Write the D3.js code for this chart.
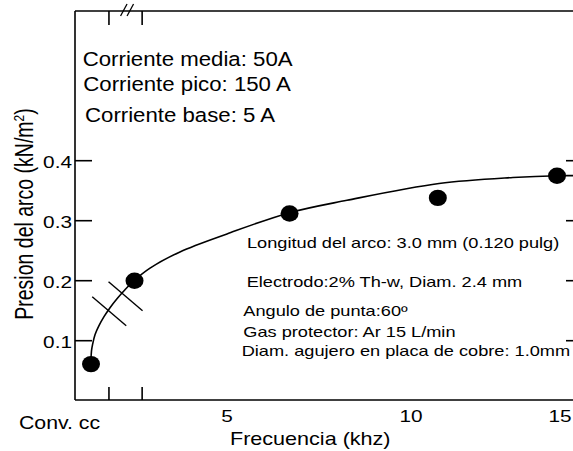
<!DOCTYPE html>
<html>
<head>
<meta charset="utf-8">
<script src="https://cdn.jsdelivr.net/npm/d3@7"></script>
<style>
  html, body { margin: 0; padding: 0; background: #fff; }
  svg { display: block; font-family: "Liberation Sans", Arial, sans-serif; }
</style>
</head>
<body>
<svg id="chart" width="573" height="451"></svg>
<script>
// Measured points (frequency in khz, 0 = conventional DC)
const FREQ = [0, 1.6, 6.7, 10.9, 14.9];
const PRESSURE = [0.061, 0.2, 0.312, 0.338, 0.375];

// Fitted curve
const CURVE_FREQ = [0, 0.018, 0.055, 0.147, 0.294, 0.478, 0.699, 0.956, 1.25, 1.58, 2.17, 3.27, 5, 6.68, 8.26, 10.94, 13.42, 14.93, 15.67];
const CURVE_PRESSURE = [0.068, 0.083, 0.093, 0.11, 0.125, 0.14, 0.155, 0.17, 0.185, 0.2, 0.221, 0.248, 0.278, 0.313, 0.334, 0.362, 0.372, 0.375, 0.375];

// Axis break
const BREAK_TICKS = [0.66, 1.88];
const BREAK_MARK_FREQ = [0.67, 1.27];
const BREAK_MARK_PRESSURE = [0.149, 0.174];

const Y_TICKS = [0.1, 0.2, 0.3, 0.4];
const X_TICKS = [5, 10, 15];

const NOTES_TOP = ['Corriente media: 50A', 'Corriente pico: 150 A', 'Corriente base: 5 A'];
const NOTES_RIGHT = [
  'Longitud del arco: 3.0 mm (0.120 pulg)',
  'Electrodo:2% Th-w, Diam. 2.4 mm',
  'Angulo de punta:60º',
  'Gas protector: Ar 15 L/min',
  'Diam. agujero en placa de cobre: 1.0mm',
];

// Layout
const LEFT = 75;
const RIGHT = 600;
const TOP = 11;
const BOTTOM = 400;
const STROKE = 1.6;

const svg = d3.select('#chart');

// broken axis: DC at 0, then khz
const x = d3.scaleLinear()
  .domain([0, 5, 10, 15])
  .range([91, 227, 411, 560]);

const y = d3.scaleLinear()
  .domain([0, 0.65])
  .range([400.7, 10.7]);

const line = (g, x1, y1, x2, y2, w = STROKE) => g.append('line')
  .attr('x1', x1).attr('y1', y1).attr('x2', x2).attr('y2', y2)
  .attr('stroke', '#000').attr('stroke-width', w);

// stretched text, the scan is wider than tall
const label = (g, txt, tx, ty, size, sx, anchor = 'start') => g.append('text')
  .attr('transform', `translate(${tx},${ty}) scale(${sx},1)`)
  .attr('font-size', size)
  .attr('text-anchor', anchor)
  .attr('fill', '#000')
  .text(txt);

// Frame
const frame = svg.append('g');
line(frame, LEFT, TOP, LEFT, BOTTOM);
line(frame, LEFT, TOP, RIGHT, TOP);
line(frame, LEFT, BOTTOM, RIGHT, BOTTOM);

// Y ticks, inward on the left and on the right edge
const yAxis = svg.append('g');
yAxis.selectAll('.tl').data(Y_TICKS).enter().append('line')
  .attr('x1', LEFT).attr('x2', LEFT + 17)
  .attr('y1', d => y(d)).attr('y2', d => y(d))
  .attr('stroke', '#000').attr('stroke-width', STROKE);
yAxis.selectAll('.tr').data(Y_TICKS).enter().append('line')
  .attr('x1', 566).attr('x2', 573)
  .attr('y1', d => y(d)).attr('y2', d => y(d))
  .attr('stroke', '#000').attr('stroke-width', STROKE);
Y_TICKS.forEach(t => label(yAxis, d3.format('.1f')(t), 72, y(t) + 7.6, 16, 1.3, 'end'));

// X tick labels
const xAxis = svg.append('g');
X_TICKS.forEach(t => label(xAxis, String(t), x(t), 421.7, 16, 1.3, 'middle'));

// Break ticks on bottom and top edges
BREAK_TICKS.forEach(t => {
  line(xAxis, x(t), BOTTOM, x(t), BOTTOM - 13);
  line(xAxis, x(t), TOP, x(t), TOP + 14);
});
const mid = d3.mean(BREAK_TICKS.map(x));
line(xAxis, mid - 5, 16, mid + 1.5, 4, 1.3);
line(xAxis, mid + 1.5, 16, mid + 8, 4, 1.3);

// Axis titles
label(svg, 'Conv. cc', 19, 429.3, 19, 1.12);
label(svg, 'Frecuencia (khz)', 230, 445, 18.6, 1.16);

const yTitle = svg.append('text')
  .attr('transform', 'translate(33,214) scale(1.29,1) rotate(-90)')
  .attr('font-size', 19.5)
  .attr('text-anchor', 'middle')
  .attr('fill', '#000');
yTitle.append('tspan').text('Presion del arco (kN/m');
yTitle.append('tspan').attr('dy', -7).attr('font-size', 12).text('2');
yTitle.append('tspan').attr('dy', 7).text(')');

// Fitted curve
const curveData = CURVE_FREQ.map((f, i) => ({ f, p: CURVE_PRESSURE[i] }));
svg.append('path')
  .datum(curveData)
  .attr('fill', 'none')
  .attr('stroke', '#000')
  .attr('stroke-width', 1.6)
  .attr('d', d3.line().x(d => x(d.f)).y(d => y(d.p)).curve(d3.curveCatmullRom.alpha(0.5)));

// Break marks across the curve
BREAK_MARK_FREQ.forEach((f, i) => {
  const cx = x(f);
  const cy = y(BREAK_MARK_PRESSURE[i]);
  line(svg, cx - 17, cy - 14.5, cx + 17, cy + 14.5, 1.4);
});

// Data points
svg.append('g')
  .selectAll('ellipse')
  .data(FREQ.map((f, i) => ({ f, p: PRESSURE[i] })))
  .enter()
  .append('ellipse')
  .attr('cx', d => x(d.f))
  .attr('cy', d => y(d.p))
  .attr('rx', 9)
  .attr('ry', 8.2)
  .attr('fill', '#000');

// Annotations
const notesTop = svg.append('g');
const TOP_X = [82.7, 83.3, 85];
const TOP_Y = [65.5, 91, 121.7];
NOTES_TOP.forEach((t, i) => label(notesTop, t, TOP_X[i], TOP_Y[i], 19.5, 1.14));

const notesRight = svg.append('g');
const RIGHT_X = [247, 246.7, 243.3, 243.3, 241.7];
const RIGHT_Y = [248, 286.7, 315.7, 336.7, 356];
NOTES_RIGHT.forEach((t, i) => label(notesRight, t, RIGHT_X[i], RIGHT_Y[i], 14, 1.3));
</script>
</body>
</html>
